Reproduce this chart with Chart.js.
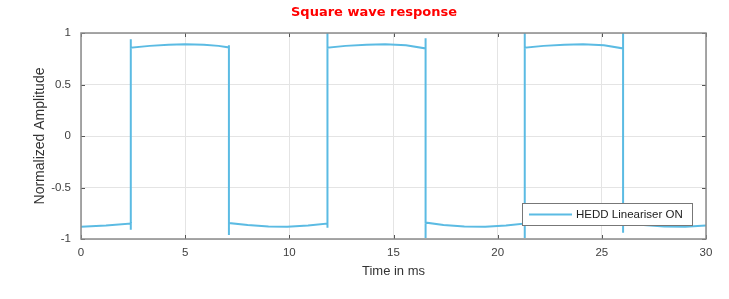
<!DOCTYPE html>
<html>
<head>
<meta charset="utf-8">
<script src="https://cdn.jsdelivr.net/npm/chart.js@4/dist/chart.umd.min.js"></script>
<style>
  html, body { margin: 0; padding: 0; background: #fff; }
  #wrap { width: 729px; height: 299px; }
</style>
</head>
<body>
<div id="wrap"><canvas id="c"></canvas></div>
<script>
// values (time in ms, normalized amplitude)
const timeMs = [
  0, 1.2, 2.39, 2.39, 2.39, 2.39,
  3.3, 4.2, 5.0, 5.9, 6.6, 7.1, 7.1, 7.1, 7.1,
  8.0, 9.0, 9.9, 10.9, 11.83, 11.83, 11.83, 11.83,
  12.7, 13.7, 14.6, 15.6, 16.54, 16.54, 16.54, 16.54,
  17.4, 18.4, 19.4, 20.4, 21.3, 21.3, 21.3, 21.3,
  22.2, 23.2, 24.1, 25.1, 26.02, 26.02, 26.02, 26.02,
  27.0, 28.0, 29.0, 30
];
const amplitude = [
  -0.88, -0.87, -0.85, -0.91, 0.94, 0.857,
  0.875, 0.885, 0.89, 0.885, 0.875, 0.86, 0.88, -0.96, -0.845,
  -0.865, -0.878, -0.88, -0.87, -0.85, -0.89, 1.0, 0.857,
  0.875, 0.887, 0.89, 0.88, 0.85, 0.95, -0.99, -0.84,
  -0.865, -0.878, -0.88, -0.87, -0.85, -0.99, 1.0, 0.857,
  0.875, 0.887, 0.89, 0.88, 0.85, 1.0, -0.94, -0.845,
  -0.865, -0.878, -0.88, -0.87
];
const xTicks = [0, 5, 10, 15, 20, 25, 30];
const yTicks = [-1, -0.5, 0, 0.5, 1];
const seriesLabel = 'HEDD Lineariser ON';
const chartTitle = 'Square wave response';

const lineColor = '#5bbbe3';
const boxColor = '#8a8a8a';
const textColor = '#404040';

// axes box, inward ticks, title and legend, drawn like a MATLAB figure
const matlabLook = {
  id: 'matlabLook',
  afterDatasetsDraw(chart) {
    const { ctx, chartArea: a, scales } = chart;
    ctx.save();
    ctx.strokeStyle = '#555';
    ctx.lineWidth = 1;
    ctx.beginPath();
    xTicks.forEach(v => {
      const px = Math.round(scales.x.getPixelForValue(v)) + 0.5;
      ctx.moveTo(px, a.bottom); ctx.lineTo(px, a.bottom - 4);
      ctx.moveTo(px, a.top); ctx.lineTo(px, a.top + 4);
    });
    yTicks.forEach(v => {
      const py = Math.round(scales.y.getPixelForValue(v)) + 0.5;
      ctx.moveTo(a.left, py); ctx.lineTo(a.left + 4, py);
      ctx.moveTo(a.right, py); ctx.lineTo(a.right - 4, py);
    });
    ctx.stroke();
    ctx.strokeStyle = boxColor;
    ctx.lineWidth = 1.5;
    ctx.strokeRect(a.left, a.top, a.right - a.left, a.bottom - a.top);

    // title
    ctx.fillStyle = '#ff0000';
    ctx.font = 'bold 13px "DejaVu Sans"';
    ctx.textAlign = 'center';
    ctx.textBaseline = 'middle';
    ctx.fillText(chartTitle, 374, 13);

    // legend box
    const lx = 522, ly = 203, lw = 170, lh = 22;
    ctx.fillStyle = '#fff';
    ctx.fillRect(lx, ly, lw, lh);
    ctx.strokeStyle = '#777';
    ctx.lineWidth = 1;
    ctx.strokeRect(lx + 0.5, ly + 0.5, lw, lh);
    ctx.strokeStyle = lineColor;
    ctx.lineWidth = 2;
    ctx.beginPath();
    ctx.moveTo(529, ly + lh / 2 + 0.5); ctx.lineTo(572, ly + lh / 2 + 0.5);
    ctx.stroke();
    ctx.fillStyle = '#222';
    ctx.font = '11.5px "Liberation Sans"';
    ctx.textAlign = 'left';
    ctx.fillText(seriesLabel, 576, ly + lh / 2 + 1);
    ctx.restore();
  }
};

new Chart(document.getElementById('c'), {
  type: 'scatter',
  data: {
    datasets: [{
      label: seriesLabel,
      data: timeMs.map((t, i) => ({ x: t, y: amplitude[i] })),
      showLine: true,
      borderColor: lineColor,
      borderWidth: 2,
      pointRadius: 0,
      tension: 0,
      fill: false
    }]
  },
  options: {
    responsive: true,
    maintainAspectRatio: false,
    animation: false,
    layout: { padding: { top: 33, right: 23, left: 0, bottom: 0 } },
    plugins: {
      legend: { display: false },
      title: { display: false },
      tooltip: { enabled: false }
    },
    scales: {
      x: {
        type: 'linear',
        min: 0, max: 30,
        afterBuildTicks: s => { s.ticks = xTicks.map(v => ({ value: v })); },
        afterFit: s => { s.height = 60; },
        grid: { color: '#e4e4e4', drawTicks: false },
        border: { display: false },
        ticks: { color: textColor, font: { family: 'Liberation Sans', size: 11.5 }, padding: 7, maxRotation: 0 },
        title: { display: true, text: 'Time in ms', color: '#333', font: { family: 'Liberation Sans', size: 13 }, padding: { top: 0, bottom: 20 } }
      },
      y: {
        min: -1, max: 1,
        afterBuildTicks: s => { s.ticks = yTicks.map(v => ({ value: v })); },
        afterFit: s => { s.width = 81; },
        grid: { color: '#e4e4e4', drawTicks: false },
        border: { display: false },
        ticks: {
          color: textColor, font: { family: 'Liberation Sans', size: 11.5 }, padding: 10,
          callback: v => String(v)
        },
        title: { display: true, text: 'Normalized Amplitude', color: '#333', font: { family: 'Liberation Sans', size: 14 }, padding: { top: 32, bottom: 0 } }
      }
    }
  },
  plugins: [matlabLook]
});
</script>
</body>
</html>
